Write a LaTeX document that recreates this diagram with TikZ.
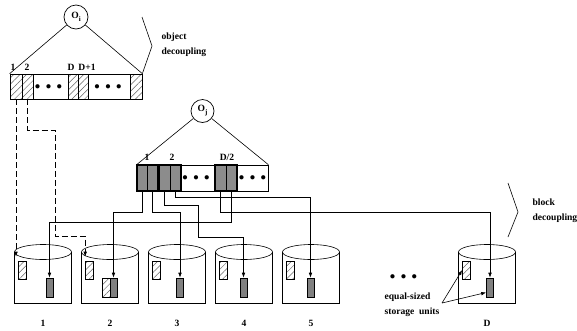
\documentclass[tikz,border=0pt]{standalone}
\usepackage{fontspec}
\setmainfont{Liberation Serif}
\usetikzlibrary{arrows.meta,patterns.meta,calc}
\tikzset{
  objcircle/.style={circle, draw, line width=0.7bp, minimum size=24bp, inner sep=0pt},
  barbox/.style={draw, line width=0.7bp, inner sep=0pt, fill=white},
  hatchcell/.style={draw, line width=0.6bp, pattern={Lines[angle=45,distance=4.5bp,line width=0.5bp]}, pattern color=black!60, inner sep=0pt, minimum height=25bp},
  darkcell/.style={draw, line width=0.5bp, fill=black!45, inner sep=0pt, minimum width=11bp, minimum height=26bp},
  groupbox/.style={draw, line width=1.8bp, inner sep=0pt, minimum height=26bp},
  hatchunit/.style={draw, line width=0.6bp, pattern={Lines[angle=45,distance=4.5bp,line width=0.5bp]}, pattern color=black!60, inner sep=0pt, minimum width=8bp, minimum height=18bp},
  darkunit/.style={draw, line width=0.6bp, fill=black!50, inner sep=0pt, minimum width=7bp, minimum height=19bp},
  dotsrow/.style={font=\fontsize{11}{11}\selectfont},
  route/.style={->, line width=0.6bp},
  dashroute/.style={->, line width=0.6bp, dash pattern=on 6bp off 3bp, shorten >=4bp},
}

\begin{document}
\begin{tikzpicture}[x=1bp, y=-1bp, >={Latex[length=5bp,width=3.6bp]}, line width=0.6bp,
    every node/.style={font=\bfseries\fontsize{9.6}{15}\selectfont}]
  \useasboundingbox (0,0) rectangle (577,330);

  % object O_i and its D+... cells
  \node[objcircle] (oi) at (76,17) {O\raisebox{-3bp}{\fontsize{7}{7}\selectfont i}};
  \node[barbox, minimum width=132bp, minimum height=25bp] (obar) at (76,86.5) {};
  \node[hatchcell, minimum width=12bp] (oc1) at (16,86.5) {};
  \node[hatchcell, minimum width=11bp] (oc2) at (27.5,86.5) {};
  \node[hatchcell, minimum width=10bp] (ocD) at (73,86.5) {};
  \node[hatchcell, minimum width=10bp] (ocD1) at (83,86.5) {};
  \node[hatchcell, minimum width=12bp] (ocL) at (136,86.5) {};
  \node[dotsrow] (odots1) at (48.5,87) {$\bullet\;\bullet\;\bullet$};
  \node[dotsrow] (odots2) at (108,87) {$\bullet\;\bullet\;\bullet$};
  \draw (oi) -- (obar.north west);
  \draw (oi) -- (obar.north east);
  \node (lo1) at (13,67) {1};
  \node (lo2) at (27,67) {2};
  \node (loD) at (71,67) {D};
  \node (loD1) at (87,67) {D+1};

  \draw (142,17) -- (152,46) -- (obar.north east);
  \node[anchor=west, align=left] (objdec) at (158,44.5) {object\\decoupling};

  % object O_j split in blocks
  \node[objcircle, minimum size=23bp] (oj) at (202.5,111) {O\raisebox{-3bp}{\fontsize{7}{7}\selectfont j}};
  \node[barbox, minimum width=131bp, minimum height=26bp] (bbar) at (202.5,178) {};
  \node[darkcell, minimum width=10.5bp] (b1a) at (142.25,178) {};
  \node[darkcell, minimum width=10.5bp] (b1b) at (152.75,178) {};
  \node[darkcell] (b2a) at (164.5,178) {};
  \node[darkcell] (b2b) at (175.5,178) {};
  \node[darkcell] (bDa) at (220.5,178) {};
  \node[darkcell] (bDb) at (231.5,178) {};
  \node[groupbox, minimum width=21bp] (g1) at (147.5,178) {};
  \node[groupbox, minimum width=22bp] (g2) at (170,178) {};
  \node[groupbox, minimum width=22bp] (gD) at (226,178) {};
  \node[dotsrow] (bdots1) at (196,178) {$\bullet\;\bullet\;\bullet$};
  \node[dotsrow] (bdots2) at (252.5,178) {$\bullet\;\bullet\;\bullet$};
  \draw (oj) -- (bbar.north west);
  \draw (oj) -- (bbar.north east);
  \node (lb1) at (147,157) {1};
  \node (lb2) at (172,157) {2};
  \node (lbD) at (227,157) {D/2};

  \draw (508,183) -- (518,212) -- (508,237);
  \node[anchor=west, align=left] (blkdec) at (529,210.5) {block\\decoupling};

  % storage units
  \foreach \n/\cx/\dx in {1/43/49.5, 2/110/113.5, 3/177/180, 4/244/243.5, 5/311/310.5, D/487/490}{
    \draw (\cx-28.5,252) -- (\cx-28.5,303) -- (\cx+28.5,303) -- (\cx+28.5,252);
    \draw (\cx,252) ellipse [x radius=28.5bp, y radius=7.5bp];
    \node[hatchunit] (h\n) at (\cx-20.5,270) {};
    \node[darkunit] (d\n) at (\dx,287.5) {};
    \node (ld\n) at (\cx,323) {\n};
  }
  \node[hatchunit, minimum height=19bp] (h2b) at (106,287.5) {};
  \node[dotsrow] (udots) at (403.5,277) {$\bullet\;\bullet\;\bullet$};
  \node[anchor=west, align=left] (eqs) at (381,305) {equal-sized\\storage\ \ units};
  \coordinate (eqsend) at (442,303);
  \draw[route] (eqsend) -- (hD.west);
  \draw[route] (eqsend) -- ([yshift=-5bp]dD.west);

  % object decoupling: dashed
  \draw[dashroute] (oc1.south) -- (oc1.south |- h1.north);
  \draw[dashroute] (oc2.south) -- ++(0,31) -| (55,236) -| (h2.north west);

  % block decoupling
  \draw[route] (b1a.south) -- ++(0,21) -| (d2.north);
  \draw[route] (b1b.south) -- ++(0,21) -| (d3.north);
  \draw[route] (b2a.south) -- ++(0,14) -- ++(33.5,0) -- ++(0,32) -| (d4.north);
  \draw[route] (b2b.south) -- ++(0,6) -| (d5.north);
  \draw[route] (bDa.south) -- ++(0,21) -| (dD.north);
  \draw[route] (bDb.south) -- ++(0,31) -| (d1.north);
\end{tikzpicture}
\end{document}
